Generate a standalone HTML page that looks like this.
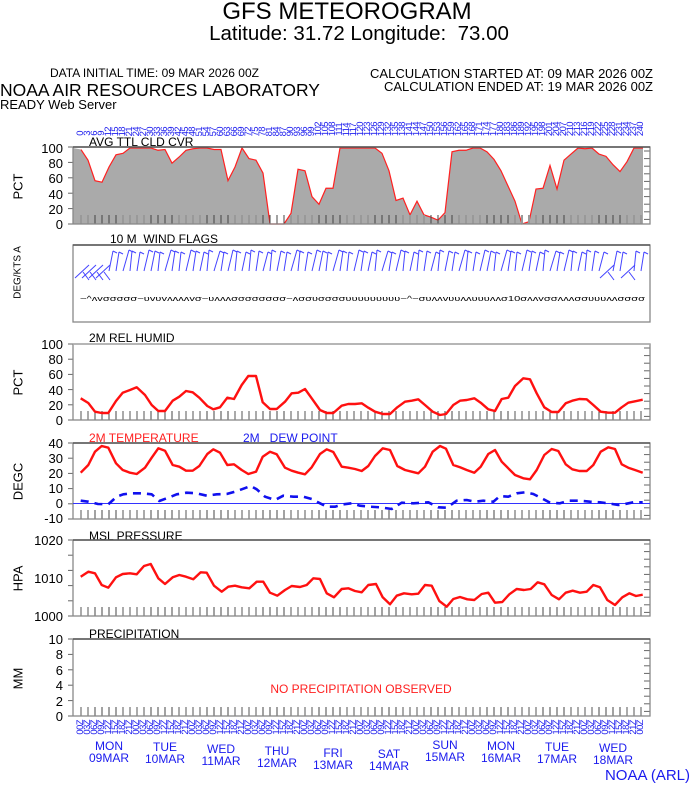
<!DOCTYPE html>
<html><head><meta charset="utf-8">
<style>
body{margin:0;background:#fff;width:694px;height:788px;overflow:hidden;position:relative;font-family:"Liberation Sans",sans-serif}
.t{position:absolute;white-space:nowrap;line-height:1}
.yl{position:absolute;width:40px;left:23px;text-align:right;font-size:13px;line-height:13px}
.ax{position:absolute;font-size:13px;transform:rotate(-90deg);transform-origin:center;white-space:nowrap;width:80px;text-align:center;line-height:13px}
.row{position:absolute;display:flex;left:77px;color:#2222ee;font-size:9.5px}
.row i{font-style:normal;width:7.01px;writing-mode:vertical-rl;transform:rotate(180deg);line-height:7px;letter-spacing:-0.6px}
.day{position:absolute;color:#1a1aee;font-size:12px;text-align:center;width:60px;line-height:12px}
</style></head><body>
<div class="t" style="left:0;width:694px;text-align:center;top:0;font-size:24px">GFS METEOROGRAM</div>
<div class="t" style="left:0;width:718px;text-align:center;top:24px;font-size:20.5px">Latitude: 31.72 Longitude:&nbsp; 73.00</div>
<div class="t" style="left:50px;top:67px;font-size:12px">DATA INITIAL TIME: 09 MAR 2026 00Z</div>
<div class="t" style="right:41px;top:67px;font-size:13px">CALCULATION STARTED AT: 09 MAR 2026 00Z</div>
<div class="t" style="right:41px;top:80px;font-size:13px">CALCULATION ENDED AT: 19 MAR 2026 00Z</div>
<div class="t" style="left:0;top:82px;font-size:17.5px">NOAA AIR RESOURCES LABORATORY</div>
<div class="t" style="left:0;top:98px;font-size:13px">READY Web Server</div>

<div class="row" style="top:113px;height:23px;align-items:flex-end"><i>0</i><i>3</i><i>6</i><i>9</i><i>12</i><i>15</i><i>18</i><i>21</i><i>24</i><i>27</i><i>30</i><i>33</i><i>36</i><i>39</i><i>42</i><i>45</i><i>48</i><i>51</i><i>54</i><i>57</i><i>60</i><i>63</i><i>66</i><i>69</i><i>72</i><i>75</i><i>78</i><i>81</i><i>84</i><i>87</i><i>90</i><i>93</i><i>96</i><i>99</i><i>102</i><i>105</i><i>108</i><i>111</i><i>114</i><i>117</i><i>120</i><i>123</i><i>126</i><i>129</i><i>132</i><i>135</i><i>138</i><i>141</i><i>144</i><i>147</i><i>150</i><i>153</i><i>156</i><i>159</i><i>162</i><i>165</i><i>168</i><i>171</i><i>174</i><i>177</i><i>180</i><i>183</i><i>186</i><i>189</i><i>192</i><i>195</i><i>198</i><i>201</i><i>204</i><i>207</i><i>210</i><i>213</i><i>216</i><i>219</i><i>222</i><i>225</i><i>228</i><i>231</i><i>234</i><i>237</i><i>240</i></div>

<div class="row" style="top:720px;height:23px;align-items:flex-start"><i>00Z</i><i>03Z</i><i>06Z</i><i>09Z</i><i>12Z</i><i>15Z</i><i>18Z</i><i>21Z</i><i>00Z</i><i>03Z</i><i>06Z</i><i>09Z</i><i>12Z</i><i>15Z</i><i>18Z</i><i>21Z</i><i>00Z</i><i>03Z</i><i>06Z</i><i>09Z</i><i>12Z</i><i>15Z</i><i>18Z</i><i>21Z</i><i>00Z</i><i>03Z</i><i>06Z</i><i>09Z</i><i>12Z</i><i>15Z</i><i>18Z</i><i>21Z</i><i>00Z</i><i>03Z</i><i>06Z</i><i>09Z</i><i>12Z</i><i>15Z</i><i>18Z</i><i>21Z</i><i>00Z</i><i>03Z</i><i>06Z</i><i>09Z</i><i>12Z</i><i>15Z</i><i>18Z</i><i>21Z</i><i>00Z</i><i>03Z</i><i>06Z</i><i>09Z</i><i>12Z</i><i>15Z</i><i>18Z</i><i>21Z</i><i>00Z</i><i>03Z</i><i>06Z</i><i>09Z</i><i>12Z</i><i>15Z</i><i>18Z</i><i>21Z</i><i>00Z</i><i>03Z</i><i>06Z</i><i>09Z</i><i>12Z</i><i>15Z</i><i>18Z</i><i>21Z</i><i>00Z</i><i>03Z</i><i>06Z</i><i>09Z</i><i>12Z</i><i>15Z</i><i>18Z</i><i>21Z</i><i>00Z</i></div>

<div class="day" style="left:79px;top:740px">MON<br>09MAR</div>
<div class="day" style="left:135px;top:741px">TUE<br>10MAR</div>
<div class="day" style="left:191px;top:743px">WED<br>11MAR</div>
<div class="day" style="left:247px;top:745px">THU<br>12MAR</div>
<div class="day" style="left:303px;top:747px">FRI<br>13MAR</div>
<div class="day" style="left:359px;top:748px">SAT<br>14MAR</div>
<div class="day" style="left:415px;top:739px">SUN<br>15MAR</div>
<div class="day" style="left:471px;top:740px">MON<br>16MAR</div>
<div class="day" style="left:527px;top:741px">TUE<br>17MAR</div>
<div class="day" style="left:583px;top:742px">WED<br>18MAR</div>
<div class="t" style="right:4px;top:768px;font-size:15px;color:#1a1aee">NOAA (ARL)</div>

<svg id="g" width="694" height="788" style="position:absolute;left:0;top:0">
<g font-family="Liberation Sans, sans-serif" font-size="12">
<text x="89" y="146">AVG TTL CLD CVR</text>
<text x="110" y="243">10 M&nbsp; WIND FLAGS</text>
<text x="89" y="342">2M REL HUMID</text>
<text x="89" y="442" fill="#ff2020">2M TEMPERATURE</text>
<text x="243" y="442" fill="#1a1aee">2M&#160;&#160; DEW POINT</text>
<text x="89" y="540">MSL PRESSURE</text>
<text x="89" y="638">PRECIPITATION</text>
<text x="361" y="693" fill="#ff2020" text-anchor="middle">NO PRECIPITATION OBSERVED</text>
<text x="80" y="301" font-size="7" textLength="565" lengthAdjust="spacingAndGlyphs">~^ʌvσσσσσ~ʋvʋvʌʌʌʌvσ~ʋʌʌʌσσσσσσσσ~ʌσσʋσσσσʋʋʋʋʋʋʋʋʋ~^~σʋʌʌvʋʋʌʌʋʋʋʌʌσ10σʌʌvσσʌʌʌσσʋʋʋʌʌσσσσ</text>
</g>
</svg>

<div class="ax" style="left:-22px;top:180px">PCT</div>
<div class="ax" style="left:-22px;top:266px;font-size:10px">DEG/KTS A</div>
<div class="ax" style="left:-22px;top:376px">PCT</div>
<div class="ax" style="left:-22px;top:475px">DEGC</div>
<div class="ax" style="left:-22px;top:572px">HPA</div>
<div class="ax" style="left:-22px;top:672px">MM</div>

<div class="yl" style="top:142px">100</div><div class="yl" style="top:157px">80</div><div class="yl" style="top:172px">60</div><div class="yl" style="top:188px">40</div><div class="yl" style="top:203px">20</div><div class="yl" style="top:218px">0</div>
<div class="yl" style="top:338px">100</div><div class="yl" style="top:353px">80</div><div class="yl" style="top:368px">60</div><div class="yl" style="top:384px">40</div><div class="yl" style="top:399px">20</div><div class="yl" style="top:414px">0</div>
<div class="yl" style="top:437px">40</div><div class="yl" style="top:452px">30</div><div class="yl" style="top:467px">20</div><div class="yl" style="top:482px">10</div><div class="yl" style="top:497px">0</div><div class="yl" style="top:512px">-10</div>
<div class="yl" style="top:534px">1020</div><div class="yl" style="top:572px">1010</div><div class="yl" style="top:610px">1000</div>
<div class="yl" style="top:633px">10</div><div class="yl" style="top:648px">8</div><div class="yl" style="top:664px">6</div><div class="yl" style="top:679px">4</div><div class="yl" style="top:695px">2</div><div class="yl" style="top:710px">0</div>

<script>
(function(){
var s=document.getElementById('g'),NS='http://www.w3.org/2000/svg';
function el(n,a){var e=document.createElementNS(NS,n);for(var k in a)e.setAttribute(k,a[k]);s.appendChild(e);return e;}
var L=73,R=650;
var cv=[98,84,57,55,75,91,93,100,100,100,100,97,98,80,88,97,99,100,100,98,98,57,75,100,86,84,67,0,0,0,14,72,70,36,26,47,47,100,100,100,100,100,100,93,70,31,34,12,30,12,9,5,15,95,97,97,100,100,95,85,70,50,30,0,3,46,47,77,46,84,92,100,99,100,92,89,78,69,82,100,100];
var cp=[],poly=[[L,148]];
cv.forEach(function(v,i){var p=[81+7*i,224-v*0.76];cp.push(p);poly.push(p);});
poly.push([643,148],[643,224],[L,224]);
el('polygon',{points:poly.join(' '),fill:'#aaaaaa'});
cp.push([643,148]);
el('polyline',{points:cp.join(' '),fill:'none',stroke:'#ff2020','stroke-width':1.2});
var rh=[[80.7,398.3],[88.3,403],[95,411.7],[101.7,413],[108.3,413],[116,401],[122.7,392.7],[130,390],[136.7,387.3],[145,395],[151.7,405],[158.3,411],[165,411],[172.7,400.7],[179.3,396.7],[186,391],[192.7,392.3],[199.3,397.7],[207.3,406],[213.3,409.3],[220,407.3],[227.3,397.7],[234,399],[241.7,385],[248.3,376],[256,376],[262.7,402.3],[270,409],[276.7,409],[285,401.7],[291.7,393.3],[298.3,392.7],[305,389],[311.7,398.3],[320,410],[326.7,413],[333.3,413],[341.7,405.7],[348.3,404],[355,404],[361.7,403.3],[368.3,407.7],[375,411.7],[382.7,414],[390,414],[397.3,407.3],[405,401.7],[411.7,400.7],[418.3,399.3],[425,405],[432.7,411.7],[440,415],[446,414],[453.3,405],[460,400.7],[466.7,400],[474.3,398.3],[480.7,402.7],[488.3,409.3],[495,411],[501.7,399],[508.3,397.7],[515,386],[523.3,378.3],[530,379.3],[536.7,393.3],[544.3,407.3],[551.7,412],[558.3,412],[565.7,403.3],[572.3,400.7],[579.3,399],[586.7,399.3],[593.3,405],[600.7,411.7],[608.3,412.7],[615,412.7],[621.7,407.3],[628.3,402.7],[635,401.3],[642.7,399.7]];
var tp=[[80.7,472.7],[88.3,465],[95,451.7],[101.7,446],[108.3,447.7],[116,463.3],[122.7,470],[130,472.7],[136.7,474],[145,467.7],[151.7,457.7],[158.3,448.3],[165,450.7],[172.7,465],[179.3,466.7],[186,470.7],[192.7,470.7],[199.3,466],[207.3,454],[213.3,449.3],[220,452.7],[227.3,465],[234,464.3],[241.7,470],[248.3,474],[256,471.7],[262.7,456.7],[270,451.7],[276.7,454.3],[285,467.7],[291.7,470.7],[298.3,472.7],[305,474.3],[311.7,467.3],[320,454],[326.7,449.3],[333.3,452],[341.7,466.7],[348.3,467.7],[355,469],[361.7,471],[368.3,466],[375,456],[382.7,448.3],[390,450],[397.3,466],[405,470],[411.7,471.7],[418.3,473.3],[425,466.7],[432.7,451.7],[440,446],[446,448.7],[453.3,465],[460,467.3],[466.7,470],[474.3,472.7],[480.7,466.7],[488.3,454],[495,450],[501.7,461.7],[508.3,468.3],[515,475],[523.3,478.3],[530,479.3],[536.7,470],[544.3,455],[551.7,449],[558.3,451],[565.7,464.3],[572.3,469.3],[579.3,471],[586.7,471],[593.3,465],[600.7,451.7],[608.3,447.3],[615,449],[621.7,464.3],[628.3,467.7],[635,470],[642.7,472.7]];
var dp=[[80.7,500.7],[88.3,501.7],[98,504],[108.3,504.3],[116.7,496.7],[123.3,494.3],[131.7,493.3],[141.7,493.3],[151.7,494.3],[159.3,501],[168.3,497.7],[176.7,494.3],[186.7,492.7],[196.7,493.3],[206.7,495.7],[216.7,494.3],[226.7,494],[235,491.7],[241.7,489.3],[250.7,486],[256.7,489.3],[265,496.7],[275,500],[283.3,495.7],[293.3,496.7],[303.3,496.7],[311.7,499],[320,503.3],[326.7,506.7],[335,506.7],[343.3,504.3],[351.7,503.3],[360,505.7],[370,506.7],[380,507.3],[391.7,509],[401.7,502.7],[413.3,503.3],[428.3,502.3],[438.3,507.3],[446.7,507.7],[456.7,500.7],[466.7,500],[475,501.7],[483.3,500.7],[493.3,501.7],[500,496],[508.3,496.7],[516.7,493.3],[525,492.3],[533.3,494],[541.7,498.3],[550,502.7],[560,503.3],[568.3,500.7],[580,500.7],[590,501.7],[600,502.3],[608.3,503.3],[618.3,505],[625,504],[633.3,502.3],[642.7,502.3]];
var pp=[[80.7,576.7],[88.3,571.7],[95,573.3],[101.7,585],[108.3,587.7],[116,577.3],[122.7,574],[130,573.3],[136.7,574.3],[144,566],[150.7,564],[158.3,578.3],[165,584],[172.7,577.3],[179.3,575],[186,576.7],[193.3,579.3],[200.7,572.3],[206.7,572.7],[214,585.7],[221.7,591.7],[228.3,586.7],[235,585.7],[241.7,587.3],[249.3,588.3],[256.7,581.7],[263.3,581.7],[270,592.7],[277.3,595.7],[285,590],[291.7,586],[300,587],[306.7,585],[313.3,578.3],[320,579],[326.7,593.3],[334,597.3],[341.7,589],[348.3,588.3],[355,591],[361.7,592.3],[368.3,585],[376,584],[382.7,597.3],[390,604.3],[396.7,595.7],[404,593.3],[411.7,594.3],[418.3,593.7],[425,585],[431.7,585.7],[439.3,601],[446.7,606.7],[453.3,599],[460,597],[467.3,599.3],[474.3,600],[481.7,594],[488.3,592.7],[495,602.7],[502.3,602],[509.3,594.3],[516.7,589],[524,590],[530.7,589],[537.7,582.3],[544.3,584.3],[551.7,595],[559,599.3],[565.7,592.7],[572.7,590.7],[580,592.7],[586.7,591.7],[593.3,585],[600,587.3],[607.3,600],[615,605],[622.3,597.3],[629.3,593.3],[636,596],[642.7,594.7]];
var boxes=[[147,224],[245,322],[344,420],[443,519],[540,616],[639,716]];
boxes.forEach(function(b,k){
 if(k!=1){for(var i=0;i<81;i++){var x=81+7*i,h=(i%8<2||i%8>5)?'#aaa':'#444';if(k==0&&h=='#aaa')h='#999';el('line',{x1:x,y1:b[1],x2:x,y2:b[1]-9,stroke:h,'stroke-width':(h!='#444'?2:1)});}
 for(var y=b[0]+4;y<b[1];y+=7.6){el('line',{x1:R,y1:y,x2:R-6,y2:y,stroke:'#666','stroke-width':1});}
 for(var y=b[0];y<=b[1]+1;y+=(b[1]-b[0])/5){el('line',{x1:L-5,y1:y,x2:L,y2:y,stroke:'#666'});}}
 el('rect',{x:L,y:b[0],width:R-L,height:b[1]-b[0],fill:'none',stroke:'#888','stroke-width':1.3});
 el('line',{x1:L,y1:b[0],x2:R,y2:b[0],stroke:k==2?'#aaa':'#555','stroke-width':1.5});
});
el('line',{x1:L,y1:503.5,x2:R,y2:503.5,stroke:'#3333ff','stroke-width':1});
function pl(p,c,w,d){var a={points:p.join(' '),fill:'none',stroke:c,'stroke-width':w,'stroke-linejoin':'round'};if(d)a['stroke-dasharray']=d;el('polyline',a);}
pl(rh,'#ff1010',2.4);pl(tp,'#ff1010',2.4);pl(dp,'#1010ee',2.6,'8,6');pl(pp,'#ff1010',2.4);
var ln=[2,3,5,2,4,3,6,2,3,5,4,2,6,3,2,5,3,4,2,6,3,5,2,4];
for(var i=0;i<81;i++){var x=81+7*i;
 if(i<4||(i>74&&i%3==0)){el('line',{x1:x-6,y1:278,x2:x+8,y2:265,stroke:'#4444ff','stroke-width':1});el('line',{x1:x+2,y1:272,x2:x+8,y2:280,stroke:'#4444ff','stroke-width':1});continue;}
 var lean=ln[i%ln.length],ty=250+(i%3);
 el('line',{x1:x,y1:271,x2:x+lean,y2:ty,stroke:'#4444ff','stroke-width':1});
 el('line',{x1:x+lean,y1:ty,x2:x+lean+4,y2:ty+2,stroke:'#4444ff','stroke-width':1});
}
})();
</script>
</body></html>
